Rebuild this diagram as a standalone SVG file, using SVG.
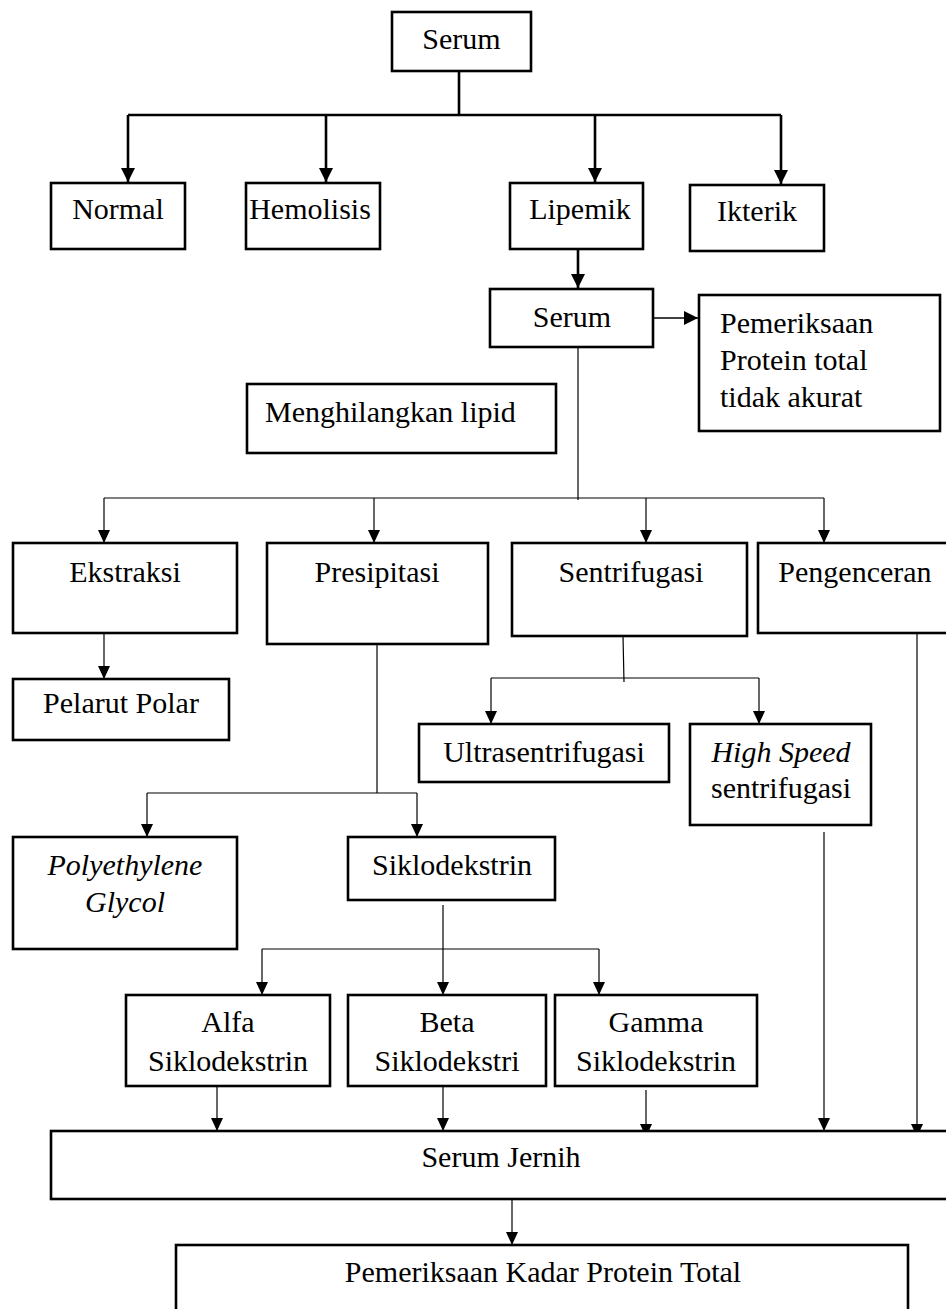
<svg xmlns="http://www.w3.org/2000/svg" width="946" height="1309" viewBox="0 0 946 1309">
<style>
  .box { fill: #fff; stroke: #000; stroke-width: 2.6; }
  .t { font-family: "Liberation Serif", "Times New Roman", serif; font-size: 30px; fill: #000; }
  .c { text-anchor: middle; }
  .i { font-style: italic; }
  .thick { stroke: #000; stroke-width: 2.6; fill: none; }
  .thin { stroke: #000; stroke-width: 1.2; fill: none; }
  .mid { stroke: #000; stroke-width: 1.6; fill: none; }
</style>
<defs>
  <marker id="ah" markerUnits="userSpaceOnUse" markerWidth="14" markerHeight="16" viewBox="0 0 14 16" refX="14" refY="8" orient="auto">
    <path d="M0,1 L14,8 L0,15 Z" fill="#000"/>
  </marker>
  <marker id="ahs" markerUnits="userSpaceOnUse" markerWidth="13" markerHeight="14" viewBox="0 0 13 14" refX="13" refY="7" orient="auto">
    <path d="M0,1 L13,7 L0,13 Z" fill="#000"/>
  </marker>
</defs>

<g id="connectors">
  <line class="thick" x1="459" y1="71" x2="459" y2="115"/>
  <line class="thick" x1="128" y1="115" x2="781" y2="115"/>
  <line class="thick" x1="128" y1="115" x2="128" y2="182" marker-end="url(#ah)"/>
  <line class="thick" x1="326" y1="115" x2="326" y2="182" marker-end="url(#ah)"/>
  <line class="thick" x1="595" y1="115" x2="595" y2="182" marker-end="url(#ah)"/>
  <line class="thick" x1="781" y1="115" x2="781" y2="184" marker-end="url(#ah)"/>
  <line class="thick" x1="578" y1="249" x2="578" y2="288" marker-end="url(#ah)"/>
  <line class="mid" x1="653" y1="318" x2="698" y2="318" marker-end="url(#ah)"/>
  <line class="thin" x1="578" y1="347" x2="578" y2="500"/>
  <line class="thin" x1="104" y1="498" x2="824" y2="498"/>
  <line class="thin" x1="104" y1="498" x2="104" y2="543" marker-end="url(#ahs)"/>
  <line class="thin" x1="374" y1="498" x2="374" y2="543" marker-end="url(#ahs)"/>
  <line class="thin" x1="646" y1="498" x2="646" y2="543" marker-end="url(#ahs)"/>
  <line class="thin" x1="824" y1="498" x2="824" y2="543" marker-end="url(#ahs)"/>
  <line class="thin" x1="104" y1="634" x2="104" y2="679" marker-end="url(#ahs)"/>
  <line class="thin" x1="377" y1="644" x2="377" y2="793"/>
  <line class="thin" x1="147" y1="793" x2="417" y2="793"/>
  <line class="thin" x1="147" y1="793" x2="147" y2="837" marker-end="url(#ahs)"/>
  <line class="thin" x1="417" y1="793" x2="417" y2="837" marker-end="url(#ahs)"/>
  <line class="thin" x1="623" y1="636" x2="624" y2="682"/>
  <line class="thin" x1="491" y1="678" x2="759" y2="678"/>
  <line class="thin" x1="491" y1="678" x2="491" y2="724" marker-end="url(#ahs)"/>
  <line class="thin" x1="759" y1="678" x2="759" y2="724" marker-end="url(#ahs)"/>
  <line class="thin" x1="443" y1="905" x2="443" y2="995" marker-end="url(#ahs)"/>
  <line class="thin" x1="262" y1="949" x2="599" y2="949"/>
  <line class="thin" x1="262" y1="949" x2="262" y2="995" marker-end="url(#ahs)"/>
  <line class="thin" x1="599" y1="949" x2="599" y2="995" marker-end="url(#ahs)"/>
  <line class="thin" x1="217" y1="1086" x2="217" y2="1131" marker-end="url(#ahs)"/>
  <line class="thin" x1="443" y1="1084" x2="443" y2="1131" marker-end="url(#ahs)"/>
  <line class="thin" x1="646" y1="1090" x2="646" y2="1137" marker-end="url(#ahs)"/>
  <line class="thin" x1="824" y1="832" x2="824" y2="1131" marker-end="url(#ahs)"/>
  <line class="thin" x1="917" y1="634" x2="917" y2="1137" marker-end="url(#ahs)"/>
  <line class="thin" x1="512" y1="1199" x2="512" y2="1245" marker-end="url(#ahs)"/>
</g>

<g id="serum-top"><rect class="box" x="392" y="12" width="139" height="59"/><text class="t c" x="461.5" y="49">Serum</text></g>
<g id="normal"><rect class="box" x="51" y="183" width="134" height="66"/><text class="t c" x="118" y="219">Normal</text></g>
<g id="hemolisis"><rect class="box" x="246" y="183" width="134" height="66"/><text class="t c" x="310" y="219">Hemolisis</text></g>
<g id="lipemik"><rect class="box" x="510" y="183" width="133" height="66"/><text class="t c" x="580" y="219">Lipemik</text></g>
<g id="ikterik"><rect class="box" x="690" y="185" width="134" height="66"/><text class="t c" x="757" y="221">Ikterik</text></g>
<g id="serum2"><rect class="box" x="490" y="289" width="163" height="58"/><text class="t c" x="572" y="327">Serum</text></g>
<g id="tidak-akurat"><rect class="box" x="699" y="295" width="241" height="136"/>
  <text class="t" x="720" y="333">Pemeriksaan</text>
  <text class="t" x="720" y="370">Protein total</text>
  <text class="t" x="720" y="407">tidak akurat</text>
</g>
<g id="menghilangkan"><rect class="box" x="247" y="384" width="309" height="69"/><text class="t" x="265" y="422">Menghilangkan lipid</text></g>
<g id="ekstraksi"><rect class="box" x="13" y="543" width="224" height="90"/><text class="t c" x="125" y="582">Ekstraksi</text></g>
<g id="presipitasi"><rect class="box" x="267" y="543" width="221" height="101"/><text class="t c" x="377" y="582">Presipitasi</text></g>
<g id="sentrifugasi"><rect class="box" x="512" y="543" width="235" height="93"/><text class="t c" x="631" y="582">Sentrifugasi</text></g>
<g id="pengenceran"><rect class="box" x="758" y="543" width="200" height="90"/><text class="t c" x="855" y="582">Pengenceran</text></g>
<g id="pelarut-polar"><rect class="box" x="13" y="679" width="216" height="61"/><text class="t c" x="121" y="713">Pelarut Polar</text></g>
<g id="ultrasentrifugasi"><rect class="box" x="419" y="724" width="250" height="58"/><text class="t c" x="544" y="762">Ultrasentrifugasi</text></g>
<g id="high-speed"><rect class="box" x="690" y="724" width="181" height="101"/>
  <text class="t c" x="781" y="762"><tspan class="i">High Speed</tspan></text>
  <text class="t c" x="781" y="798">sentrifugasi</text>
</g>
<g id="peg"><rect class="box" x="13" y="837" width="224" height="112"/>
  <text class="t c i" x="125" y="875">Polyethylene</text>
  <text class="t c i" x="125" y="912">Glycol</text>
</g>
<g id="siklodekstrin"><rect class="box" x="348" y="837" width="207" height="63"/><text class="t c" x="452" y="875">Siklodekstrin</text></g>
<g id="alfa"><rect class="box" x="126" y="995" width="204" height="91"/>
  <text class="t c" x="228" y="1032">Alfa</text>
  <text class="t c" x="228" y="1071">Siklodekstrin</text>
</g>
<g id="beta"><rect class="box" x="348" y="995" width="198" height="91"/>
  <text class="t c" x="447" y="1032">Beta</text>
  <text class="t c" x="447" y="1071">Siklodekstri</text>
</g>
<g id="gamma"><rect class="box" x="555" y="995" width="202" height="91"/>
  <text class="t c" x="656" y="1032">Gamma</text>
  <text class="t c" x="656" y="1071">Siklodekstrin</text>
</g>
<g id="serum-jernih"><rect class="box" x="51" y="1131" width="905" height="68"/><text class="t c" x="501" y="1167">Serum Jernih</text></g>
<g id="pemeriksaan-kadar"><rect class="box" x="176" y="1245" width="732" height="90"/><text class="t c" x="543" y="1282">Pemeriksaan Kadar Protein Total</text></g>
</svg>
